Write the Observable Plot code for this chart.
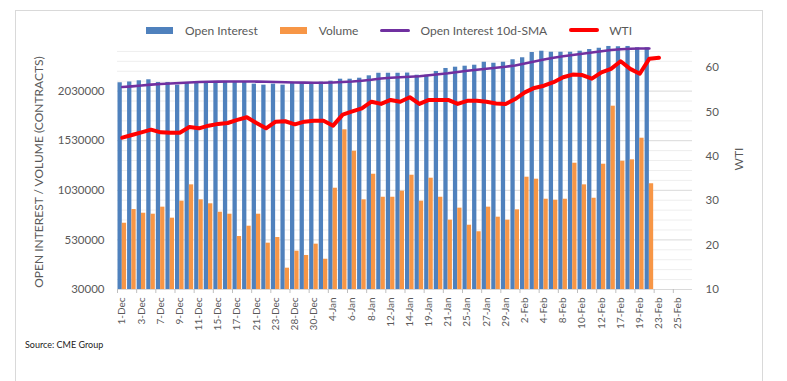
<!DOCTYPE html>
<html>
<head>
<meta charset="utf-8">
<script src="https://cdn.jsdelivr.net/npm/d3@7"></script>
<script src="https://cdn.jsdelivr.net/npm/@observablehq/plot@0.6"></script>
<style>
  body { margin: 0; background: #fff; font-family: Lato, "Open Sans", sans-serif; }
  #wrap { position: relative; width: 787px; height: 381px; overflow: hidden; background: #fff; }
  #frame { position: absolute; left: 15px; top: 10px; width: 748px; height: 380px; border: 1px solid #d9d9d9; box-sizing: border-box; }
  #chart { position: absolute; left: 0; top: 0; }
  #legend { position: absolute; left: 15px; top: 22px; width: 748px; height: 16px; display: flex; justify-content: center; align-items: center; font-size: 12px; color: #595959; }
  .item { display: flex; align-items: center; margin: 0 11px; }
  .sw { width: 27px; height: 7px; margin-right: 12px; }
  .ln { width: 30px; border-radius: 2px; margin-right: 10px; }
  .ytitle { position: absolute; transform: translate(-50%, -50%) rotate(-90deg); white-space: nowrap; font-size: 12px; color: #595959; }
  #source { position: absolute; left: 25px; top: 339px; font-size: 9px; color: #222; }
</style>
</head>
<body>
<div id="wrap">
  <div id="frame"></div>
  <div id="chart"></div>
  <div id="legend"></div>
  <div class="ytitle" style="left:38px; top:172px;">OPEN INTEREST / VOLUME (CONTRACTS)</div>
  <div class="ytitle" style="left:738px; top:159px;">WTI</div>
  <div id="source">Source: CME Group</div>
</div>
<script>
// Trading days (category axis)
const categories = [
  "1-Dec","2-Dec","3-Dec","4-Dec","7-Dec","8-Dec","9-Dec","10-Dec","11-Dec","14-Dec",
  "15-Dec","16-Dec","17-Dec","18-Dec","21-Dec","22-Dec","23-Dec","24-Dec","28-Dec","29-Dec",
  "30-Dec","31-Dec","4-Jan","5-Jan","6-Jan","7-Jan","8-Jan","11-Jan","12-Jan","13-Jan",
  "14-Jan","15-Jan","19-Jan","20-Jan","21-Jan","22-Jan","25-Jan","26-Jan","27-Jan","28-Jan",
  "29-Jan","1-Feb","2-Feb","3-Feb","4-Feb","5-Feb","8-Feb","9-Feb","10-Feb","11-Feb",
  "12-Feb","16-Feb","17-Feb","18-Feb","19-Feb","22-Feb","23-Feb","24-Feb","25-Feb","26-Feb"
];

const openInterest = [
  2114000,2122000,2134000,2144000,2117000,2117000,2090000,2112000,2117000,2122000,
  2127000,2127000,2127000,2124000,2100000,2090000,2100000,2090000,2110000,2110000,
  2114000,2120000,2130000,2150000,2150000,2160000,2184000,2210000,2210000,2210000,
  2212000,2190000,2190000,2228000,2258000,2271000,2281000,2291000,2321000,2311000,
  2321000,2346000,2366000,2419000,2432000,2422000,2422000,2422000,2432000,2449000,
  2462000,2480000,2477000,2480000,2467000,2467000
];

const volume = [
  698000,836000,799000,789000,860000,749000,920000,1085000,934000,894000,
  809000,789000,564000,668000,789000,497000,554000,245000,416000,373000,
  487000,335000,1051000,1640000,1424000,934000,1192000,960000,960000,1021000,
  1182000,920000,1152000,960000,729000,850000,678000,612000,860000,759000,
  729000,833000,1162000,1142000,940000,930000,940000,1303000,1085000,950000,
  1293000,1878000,1323000,1337000,1555000,1096000
];

const oiSMA10 = [
  2071000,2078000,2086000,2095000,2102000,2107000,2112000,2117000,2121000,2124000,
  2126000,2127000,2127000,2127000,2126000,2124000,2122000,2119000,2117000,2115000,
  2114000,2114000,2117000,2122000,2127000,2135000,2144000,2157000,2164000,2169000,
  2175000,2180000,2190000,2200000,2210000,2223000,2235000,2245000,2255000,2265000,
  2276000,2288000,2308000,2328000,2348000,2366000,2382000,2394000,2406000,2419000,
  2432000,2444000,2452000,2457000,2459000,2459000
];

const wti = [
  44.2,44.8,45.4,46.0,45.4,45.3,45.3,46.6,46.3,46.9,
  47.3,47.5,48.2,48.8,47.5,46.3,47.8,47.9,47.2,47.8,
  48.0,48.0,46.9,49.4,50.1,50.8,52.3,51.8,52.7,52.3,
  53.3,51.8,52.7,52.7,52.7,51.8,52.5,52.5,52.3,51.9,
  51.8,52.9,54.4,55.4,55.9,56.7,57.8,58.4,58.3,57.5,
  58.9,59.7,61.4,59.7,58.6,62.0,62.2
];

const leftTicks = [30000, 530000, 1030000, 1530000, 2030000];
const leftMinor = [130000,230000,330000,430000,630000,730000,830000,930000,1130000,1230000,1330000,1430000,1630000,1730000,1830000,1930000,2130000,2230000,2330000,2430000];
const wtiTicks = [10, 20, 30, 40, 50, 60];
const xTickLabels = categories.filter((d, i) => i % 2 === 0);

const leftDomain = [30000, 2530000];
const wtiDomain = [10, 65.86];
const wtiToLeft = d3.scaleLinear().domain(wtiDomain).range(leftDomain);

const rows = categories.map((c, i) => ({cat: c, oi: openInterest[i], vol: volume[i], sma: oiSMA10[i], wti: wti[i]}));
const bandHalf = (787 - 117 - 95) / categories.length / 2;

const legendItems = [
  {label: "Open Interest", color: "#4f81bd", kind: "sw"},
  {label: "Volume", color: "#f79646", kind: "sw"},
  {label: "Open Interest 10d-SMA", color: "#7030a0", kind: "ln", h: 3},
  {label: "WTI", color: "#ff0000", kind: "ln", h: 4}
];
const lg = document.getElementById("legend");
for (const it of legendItems) {
  const d = document.createElement("div");
  d.className = "item";
  const s = document.createElement("span");
  s.className = it.kind;
  s.style.background = it.color;
  if (it.h) s.style.height = it.h + "px";
  d.appendChild(s);
  const t = document.createElement("span");
  t.textContent = it.label;
  d.appendChild(t);
  lg.appendChild(d);
}

const chart = Plot.plot({
  width: 787,
  height: 381,
  marginTop: 41,
  marginBottom: 92,
  marginLeft: 117,
  marginRight: 95,
  style: {fontFamily: "Lato, 'Open Sans', sans-serif", background: "transparent"},
  x: {type: "band", domain: categories, padding: 0, axis: null},
  y: {domain: leftDomain, axis: null},
  marks: [
    Plot.ruleY(leftMinor, {stroke: "#eeeeee", strokeWidth: 1}),
    Plot.ruleY(leftTicks, {stroke: "#d9d9d9", strokeWidth: 1}),
    Plot.barY(rows.filter(d => d.oi != null), {x: "cat", y1: leftDomain[0], y2: "oi", fill: "#4f81bd", insetLeft: 0.5, insetRight: bandHalf}),
    Plot.barY(rows.filter(d => d.vol != null), {x: "cat", y1: leftDomain[0], y2: "vol", fill: "#f79646", insetLeft: bandHalf, insetRight: 0.5}),
    Plot.line(rows.filter(d => d.sma != null), {x: "cat", y: "sma", stroke: "#7030a0", strokeWidth: 2.6}),
    Plot.line(rows.filter(d => d.wti != null), {x: "cat", y: d => wtiToLeft(d.wti), stroke: "#ff0000", strokeWidth: 4}),
    Plot.ruleY([leftDomain[0]], {stroke: "#d9d9d9", strokeWidth: 1}),
    Plot.axisY(leftTicks, {anchor: "left", tickSize: 0, tickPadding: 13, tickFormat: d => String(d), fontSize: 11.5, fill: "#595959", label: null}),
    Plot.axisY(wtiTicks.map(v => wtiToLeft(v)), {anchor: "right", tickSize: 0, tickPadding: 13, tickFormat: d => String(Math.round(wtiToLeft.invert(d))), fontSize: 11.5, fill: "#595959", label: null}),
    Plot.axisX(xTickLabels, {anchor: "bottom", tickSize: 4, dx: -bandHalf, stroke: "#bfbfbf", tickFormat: () => "", label: null}),
    Plot.axisX(xTickLabels, {anchor: "bottom", tickSize: 0, tickPadding: 8, tickRotate: -90, fontSize: 10, fill: "#595959", label: null})
  ]
});
document.getElementById("chart").appendChild(chart);
</script>
</body>
</html>
